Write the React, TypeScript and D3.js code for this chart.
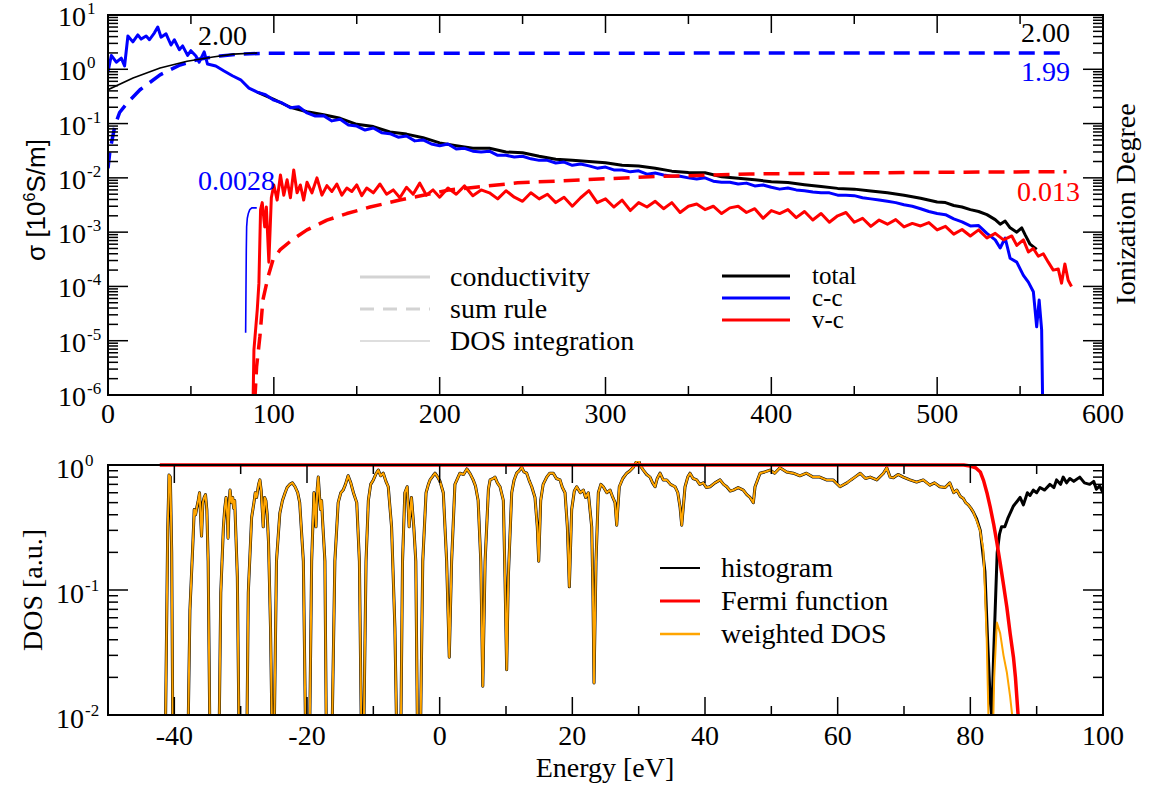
import React from 'react';
import * as d3 from 'd3';

type P = [number, number];

// ---------- top panel: conductivity (10^6 S/m) vs energy (eV) ----------
const ccCond: P[] = [[0,0.89],[2,1.8],[5,1.35],[8,1.6],[10,1.15],[12,4.1],[15,3.2],[18,4.3],[20,3.6],[23,4.1],[25,3.5],[28,4.7],[30,6.0],[32,3.9],[35,4.5],[38,2.8],[40,3.5],[43,2.3],[45,2.7],[48,1.8],[50,2.2],[53,1.76],[55,1.35],[58,2.1],[60,1.25],[65,1.15],[70,0.93],[75,0.76],[80,0.64],[85,0.45],[90,0.38],[95,0.34],[100,0.27],[105,0.24],[110,0.195],[115,0.205],[120,0.157],[125,0.138],[130,0.14],[135,0.112],[140,0.12],[145,0.094],[150,0.09],[155,0.076],[160,0.083],[165,0.068],[170,0.065],[175,0.056],[180,0.059],[185,0.048],[190,0.05],[195,0.042],[200,0.039],[205,0.042],[210,0.034],[215,0.035],[220,0.031],[225,0.03],[230,0.031],[235,0.026],[240,0.026],[245,0.0243],[250,0.025],[255,0.0224],[260,0.021],[265,0.021],[270,0.0188],[275,0.0195],[280,0.017],[285,0.018],[290,0.0166],[295,0.0151],[300,0.0158],[305,0.014],[310,0.014],[315,0.0129],[320,0.0135],[325,0.0117],[330,0.0123],[335,0.0113],[340,0.0107],[345,0.0107],[350,0.01],[355,0.0095],[360,0.01],[365,0.0087],[370,0.0083],[375,0.0083],[380,0.0077],[385,0.008],[390,0.0071],[395,0.0074],[400,0.0067],[405,0.0062],[410,0.0065],[415,0.006],[420,0.0058],[425,0.0055],[430,0.0053],[435,0.0053],[440,0.0048],[445,0.0048],[450,0.0047],[455,0.0043],[460,0.0041],[465,0.0039],[470,0.0037],[475,0.0035],[480,0.0032],[485,0.003],[490,0.0027],[495,0.0024],[500,0.0022],[505,0.0021],[510,0.00175],[515,0.00155],[520,0.0013],[525,0.00132],[530,0.00095],[535,0.00072],[538,0.00051],[541,0.00078],[544,0.00033],[548,0.00028],[552,0.00016],[555,0.00012],[558,0.00008],[560,0.000018],[561.5,0.000056],[563,0.0000158],[564,1e-7]];

const totalCond: P[] = [[90,0.38],[100,0.28],[110,0.2],[120,0.165],[130,0.145],[140,0.125],[150,0.097],[160,0.088],[170,0.07],[180,0.064],[190,0.055],[200,0.044],[210,0.039],[220,0.035],[230,0.035],[240,0.03],[250,0.029],[260,0.025],[270,0.022],[280,0.021],[290,0.02],[300,0.019],[310,0.017],[320,0.0165],[330,0.015],[340,0.0133],[350,0.0125],[360,0.0124],[370,0.0105],[380,0.0098],[390,0.0092],[400,0.0085],[410,0.0082],[420,0.0075],[430,0.0069],[440,0.0064],[450,0.0062],[460,0.0057],[470,0.0053],[480,0.0048],[490,0.0042],[500,0.0036],[505,0.0035],[510,0.0031],[515,0.0029],[520,0.0026],[525,0.0024],[530,0.0021],[535,0.0017],[538,0.0014],[541,0.0016],[544,0.0012],[548,0.001],[551,0.0012],[553,0.0009],[556,0.0006],[560,0.00048]];

const vcCond: P[] = [[87,1e-7],[88,6.8e-6],[90,3.7e-5],[91,1.15e-4],[92,2.6e-3],[93,3.5e-3],[94.5,1.25e-3],[95.5,2.9e-3],[97,2.8e-4],[98.5,4.3e-3],[100,7.4e-3],[102,3.9e-3],[104,0.0113],[106,0.0048],[108,0.0092],[110,0.0043],[112,0.014],[114,0.0053],[116,0.0074],[118,0.0039],[120,0.0083],[123,0.0053],[126,0.01],[129,0.0048],[132,0.0072],[135,0.0056],[138,0.0077],[141,0.0048],[144,0.0065],[147,0.0056],[150,0.0074],[153,0.0047],[156,0.0065],[160,0.0053],[164,0.0077],[168,0.005],[172,0.006],[176,0.0043],[180,0.0067],[184,0.005],[188,0.008],[192,0.0048],[196,0.006],[200,0.0044],[205,0.0065],[210,0.005],[215,0.0071],[220,0.0047],[225,0.006],[230,0.0053],[235,0.0041],[240,0.0058],[245,0.0044],[250,0.0037],[255,0.0053],[260,0.0041],[265,0.005],[270,0.0035],[275,0.0044],[280,0.003],[285,0.0043],[290,0.0058],[295,0.0035],[300,0.0041],[305,0.0029],[310,0.0039],[315,0.0025],[320,0.0035],[325,0.0029],[330,0.0037],[335,0.0027],[340,0.0035],[345,0.0023],[350,0.003],[355,0.0033],[360,0.0026],[365,0.003],[370,0.0022],[375,0.0028],[380,0.003],[385,0.0023],[390,0.0027],[395,0.0018],[400,0.0025],[405,0.0022],[410,0.0026],[415,0.00185],[420,0.0024],[425,0.00167],[430,0.0022],[435,0.00152],[440,0.002],[445,0.0023],[450,0.00152],[455,0.0018],[460,0.00128],[465,0.00167],[470,0.0014],[475,0.0017],[480,0.00125],[485,0.00145],[490,0.0013],[495,0.0015],[500,0.0011],[505,0.00128],[510,0.00092],[515,0.00112],[520,0.00085],[525,0.0011],[530,0.00078],[535,0.00095],[540,0.00072],[545,0.00085],[548,0.00057],[552,0.00072],[555,0.00043],[558,0.0005],[561,0.00036],[564,0.0004],[567,0.00028],[570,0.0002],[573,0.00021],[575,0.000115],[577,0.00026],[579,0.00013],[581,0.0001]];

const ccSumRule: P[] = [[0,0.015],[1.2,0.032],[4.2,0.093],[7,0.16],[11.6,0.24],[19.3,0.42],[31.4,0.79],[43.4,1.2],[55.5,1.55],[67.5,1.76],[79.6,1.9],[95,1.97],[150,1.98],[578,1.99]];
const vcSumRule: P[] = [[88,1e-7],[88.7,1e-6],[89.6,3.3e-6],[91.6,1.2e-5],[93.4,5.6e-5],[96.5,1.5e-4],[99.5,3.1e-4],[103.7,4.7e-4],[111,7.2e-4],[120,1.1e-3],[132,1.66e-3],[144,2.2e-3],[158,2.9e-3],[176,3.9e-3],[206,6.0e-3],[247,8.1e-3],[287,9.2e-3],[327,0.0105],[387,0.0118],[447,0.0123],[508,0.0127],[578,0.013]];
const totalDosInt: P[] = [[0,0.42],[15.1,0.69],[31.4,1.06],[47.7,1.41],[63.3,1.68],[75.4,1.9],[90,2.0]];
const ccDosInt: P[] = [[83.0,1.4e-5],[83.2,8.5e-5],[83.4,4.7e-4],[83.6,1.25e-3],[84.0,1.8e-3],[84.6,2.2e-3],[85.5,2.6e-3],[86.7,2.8e-3],[89.7,2.8e-3]];

// ---------- bottom panel: DOS vs energy (eV) ----------
const weightedDos: P[] = [[-41.4,0.004],[-41.0,0.3],[-40.8,0.83],[-40.6,0.8],[-40.4,0.2],[-40.2,0.004],[-38.0,0.004],[-37.65,0.069],[-37.2,0.24],[-37.0,0.44],[-36.8,0.4],[-36.6,0.46],[-36.4,0.52],[-36.2,0.6],[-36.0,0.35],[-35.9,0.27],[-35.7,0.5],[-35.5,0.55],[-35.3,0.58],[-35.1,0.44],[-34.9,0.17],[-34.6,0.004],[-33.3,0.004],[-33.0,0.095],[-32.6,0.32],[-32.4,0.45],[-32.2,0.55],[-32.0,0.38],[-31.9,0.26],[-31.75,0.5],[-31.6,0.63],[-31.4,0.5],[-31.2,0.55],[-31.05,0.45],[-30.9,0.52],[-30.5,0.127],[-30.2,0.004],[-29.1,0.004],[-28.85,0.095],[-28.35,0.38],[-28.0,0.5],[-27.8,0.6],[-27.6,0.55],[-27.3,0.7],[-27.1,0.76],[-26.9,0.62],[-26.6,0.32],[-26.4,0.55],[-26.2,0.52],[-26.0,0.4],[-25.8,0.24],[-25.5,0.05],[-25.2,0.004],[-25.0,0.004],[-24.6,0.17],[-24.1,0.41],[-23.7,0.52],[-23.3,0.6],[-23.0,0.66],[-22.6,0.7],[-22.2,0.72],[-21.8,0.67],[-21.4,0.6],[-21.1,0.5],[-20.55,0.17],[-20.15,0.004],[-19.65,0.004],[-19.3,0.17],[-18.95,0.6],[-18.8,0.45],[-18.65,0.32],[-18.45,0.65],[-18.3,0.8],[-18.1,0.55],[-17.95,0.44],[-17.8,0.52],[-17.65,0.36],[-17.3,0.17],[-17.05,0.004],[-16.3,0.004],[-15.8,0.17],[-15.3,0.5],[-14.9,0.6],[-14.55,0.63],[-14.2,0.7],[-13.8,0.82],[-13.4,0.72],[-13.0,0.6],[-12.5,0.5],[-12.1,0.17],[-11.75,0.004],[-11.5,0.004],[-11.1,0.17],[-10.75,0.52],[-10.4,0.7],[-10.0,0.76],[-9.6,0.85],[-9.25,0.91],[-8.9,0.82],[-8.5,0.86],[-8.1,0.74],[-7.75,0.67],[-7.25,0.32],[-6.75,0.05],[-6.4,0.004],[-5.9,0.004],[-5.6,0.17],[-5.25,0.6],[-4.9,0.67],[-4.6,0.32],[-4.4,0.45],[-4.25,0.55],[-3.9,0.32],[-3.6,0.17],[-3.3,0.004],[-2.95,0.004],[-2.55,0.17],[-2.05,0.6],[-1.7,0.7],[-1.45,0.76],[-1.0,0.82],[-0.7,0.86],[-0.3,0.8],[0.05,0.74],[0.55,0.6],[1.05,0.17],[1.45,0.029],[1.8,0.17],[2.3,0.7],[2.7,0.78],[3.05,0.86],[3.6,0.84],[4.1,0.93],[4.6,0.85],[5.05,0.76],[5.4,0.68],[5.8,0.52],[6.2,0.17],[6.5,0.017],[6.85,0.17],[7.35,0.64],[7.6,0.76],[8.1,0.78],[8.34,0.8],[8.7,0.72],[9.1,0.67],[9.6,0.52],[9.85,0.127],[10.1,0.023],[10.35,0.127],[10.86,0.6],[11.2,0.75],[11.6,0.86],[12.0,0.9],[12.37,0.96],[12.7,0.88],[13.12,0.86],[13.5,0.75],[13.88,0.67],[14.37,0.55],[14.72,0.32],[14.93,0.17],[15.23,0.52],[15.6,0.7],[16.14,0.8],[16.6,0.86],[17.13,0.86],[17.6,0.78],[18.14,0.76],[18.5,0.66],[18.9,0.6],[19.25,0.32],[19.55,0.106],[19.9,0.44],[20.3,0.62],[20.66,0.67],[21.2,0.6],[21.66,0.63],[22.0,0.55],[22.41,0.6],[22.92,0.32],[23.1,0.1],[23.27,0.018],[23.57,0.17],[23.92,0.6],[24.3,0.7],[24.67,0.67],[25.2,0.6],[25.68,0.63],[26.1,0.55],[26.44,0.5],[26.69,0.33],[27.08,0.67],[27.6,0.78],[28.2,0.86],[28.7,0.9],[29.2,0.96],[29.6,1.05],[29.95,1.1],[30.3,0.98],[30.7,0.91],[31.2,0.84],[31.71,0.8],[32.1,0.72],[32.47,0.67],[32.8,0.78],[33.22,0.86],[33.7,0.76],[34.23,0.76],[34.8,0.7],[35.48,0.67],[35.9,0.6],[36.24,0.46],[36.49,0.33],[36.99,0.67],[37.4,0.8],[37.74,0.86],[38.2,0.78],[38.75,0.76],[39.2,0.7],[39.75,0.72],[40.2,0.66],[40.76,0.67],[41.5,0.72],[42.27,0.76],[42.8,0.7],[43.28,0.67],[43.8,0.62],[44.27,0.63],[45.0,0.66],[45.78,0.63],[46.3,0.58],[46.79,0.55],[47.29,0.5],[47.54,0.67],[48.3,0.86],[49.0,0.88],[49.8,0.91],[50.5,0.86],[51.3,0.95],[52.3,0.88],[53.3,0.86],[54.3,0.82],[55.3,0.86],[56.3,0.8],[57.3,0.8],[58.3,0.76],[59.3,0.76],[60.35,0.67],[61.4,0.72],[62.0,0.76],[62.6,0.8],[63.4,0.86],[64.2,0.78],[64.9,0.8],[65.9,0.76],[66.9,0.86],[67.4,0.95],[67.9,0.8],[68.4,0.79],[69.1,0.84],[69.9,0.8],[70.9,0.76],[71.9,0.73],[72.9,0.76],[73.9,0.69],[74.6,0.72],[75.4,0.67],[76.2,0.66],[76.9,0.72],[77.5,0.6],[77.95,0.63],[78.5,0.56],[78.95,0.54],[79.3,0.5],[79.7,0.48],[80.1,0.45],[80.45,0.42],[80.95,0.36],[81.46,0.3],[81.96,0.21],[82.2,0.1],[82.47,0.04],[82.7,0.0116],[82.9,0.004],[83.3,0.004],[83.6,0.02],[84.0,0.055],[84.5,0.045],[85.0,0.03],[85.5,0.022],[86.0,0.014],[86.4,0.009],[86.8,0.004]];

const histogramTail: P[] = [[80.45,0.42],[80.95,0.37],[81.5,0.3],[82.2,0.14],[82.6,0.04],[83.0,0.013],[83.25,0.0095],[83.5,0.029],[83.85,0.1],[84.05,0.2],[84.4,0.28],[84.7,0.32],[85.2,0.32],[85.7,0.38],[86.5,0.47],[87.5,0.55],[88.0,0.48],[88.6,0.6],[89.0,0.57],[89.5,0.63],[90.0,0.6],[90.5,0.66],[91.2,0.63],[92.0,0.7],[92.6,0.66],[93.0,0.76],[93.6,0.7],[94.0,0.8],[94.5,0.72],[95.0,0.78],[95.6,0.74],[96.5,0.8],[97.2,0.72],[98.0,0.7],[98.6,0.74],[99.0,0.64],[99.5,0.68],[100,0.6]];

const fermiFn: P[] = [[-42.2,1.0],[79.0,1.0],[80.0,0.98],[80.8,0.95],[81.5,0.88],[82.0,0.75],[82.5,0.6],[83.0,0.46],[83.5,0.34],[84.0,0.24],[84.5,0.164],[85.0,0.11],[85.5,0.073],[86.0,0.045],[86.5,0.029],[86.8,0.02],[87.2,0.01],[87.6,0.006]];

const topXTicks = [0, 100, 200, 300, 400, 500, 600];
const topXMinor = [50, 150, 250, 350, 450, 550];
const topYDecades = [1, 0, -1, -2, -3, -4, -5, -6];
const botXTicks = [-40, -20, 0, 20, 40, 60, 80, 100];
const botXMinor = [-30, -10, 10, 30, 50, 70, 90];
const botYDecades = [0, -1, -2];

const legendTopStyle = [
  { label: 'conductivity', dash: '', width: 3 },
  { label: 'sum rule', dash: '14,9', width: 3 },
  { label: 'DOS integration', dash: '', width: 1.5 },
];
const legendTopSeries = [
  { label: 'total', color: '#000000' },
  { label: 'c-c', color: '#0000ff' },
  { label: 'v-c', color: '#ff0000' },
];
const legendBottom = [
  { label: 'histogram', color: '#000000', width: 2 },
  { label: 'Fermi function', color: '#ff0000', width: 3 },
  { label: 'weighted DOS', color: '#ffa500', width: 2.5 },
];

const SERIF = "'Liberation Serif', 'Times New Roman', serif";
const SANS = "'Liberation Sans', Arial, sans-serif";

export default function App() {
  const PL = 108, PR = 1103;
  const T1 = 15, B1 = 395, T2 = 465, B2 = 715;
  const x1 = d3.scaleLinear().domain([0, 600]).range([PL, PR]);
  const y1 = d3.scaleLog().domain([1e-6, 10]).range([B1, T1]);
  const x2 = d3.scaleLinear().domain([-50, 100]).range([PL, PR]);
  const y2 = d3.scaleLog().domain([0.01, 1]).range([B2, T2]);
  const l1 = d3.line<P>().x(d => x1(d[0])).y(d => y1(d[1]));
  const l2 = d3.line<P>().x(d => x2(d[0])).y(d => y2(d[1]));

  const histogram: P[] = [...weightedDos.filter(d => d[0] < 80.4), ...histogramTail];

  const isDecade = (v: number) => Math.abs(Math.log10(v) - Math.round(Math.log10(v))) < 1e-6;
  const y1Ticks = y1.ticks(20).filter(v => v > 1e-6 * 0.999 && v < 10.001);
  const y2Ticks = y2.ticks(20).filter(v => v > 0.00999 && v < 1.0001);

  const lab = { fontFamily: SERIF, fontSize: 28 };

  const yTickMarks = (ticks: number[], y: (v: number) => number) =>
    ticks.map((v, i) => {
      const maj = isDecade(v);
      const L = maj ? 20 : 10;
      const yy = y(v);
      return (
        <g key={'yt' + i}>
          <line x1={PL} x2={PL + L} y1={yy} y2={yy} stroke="#000" strokeWidth={1.5} />
          <line x1={PR} x2={PR - L} y1={yy} y2={yy} stroke="#000" strokeWidth={1.5} />
        </g>
      );
    });

  const xTickMarks = (maj: number[], min: number[], x: (v: number) => number, top: number, bot: number) => (
    <g>
      {maj.map((v, i) => (
        <g key={'xm' + i}>
          <line x1={x(v)} x2={x(v)} y1={bot} y2={bot - 18} stroke="#000" strokeWidth={1.5} />
          <line x1={x(v)} x2={x(v)} y1={top} y2={top + 18} stroke="#000" strokeWidth={1.5} />
        </g>
      ))}
      {min.map((v, i) => (
        <g key={'xn' + i}>
          <line x1={x(v)} x2={x(v)} y1={bot} y2={bot - 9} stroke="#000" strokeWidth={1.5} />
          <line x1={x(v)} x2={x(v)} y1={top} y2={top + 9} stroke="#000" strokeWidth={1.5} />
        </g>
      ))}
    </g>
  );

  return (
    <svg width={1150} height={787} style={{ position: 'absolute', left: 0, top: 0, background: '#fff' }}>
      <defs>
        <clipPath id="clipTop"><rect x={PL} y={T1} width={PR - PL} height={B1 - T1} /></clipPath>
        <clipPath id="clipBot"><rect x={PL} y={T2 - 4} width={PR - PL} height={B2 - T2 + 4} /></clipPath>
      </defs>
      <rect x={0} y={0} width={1150} height={787} fill="#fff" />

      {/* ===== TOP PANEL ===== */}
      <g clipPath="url(#clipTop)" fill="none" strokeLinejoin="round">
        <path d={l1(totalCond) || ''} stroke="#000" strokeWidth={3} />
        <path d={l1(ccCond) || ''} stroke="#0000ff" strokeWidth={3} />
        <path d={l1(vcCond) || ''} stroke="#ff0000" strokeWidth={3} />
        <path d={l1(ccSumRule) || ''} stroke="#0000ff" strokeWidth={3.5} strokeDasharray="16,9" />
        <path d={l1(vcSumRule) || ''} stroke="#ff0000" strokeWidth={3.5} strokeDasharray="16,9" />
        <path d={l1(totalDosInt) || ''} stroke="#000" strokeWidth={1.6} />
        <path d={l1(ccDosInt) || ''} stroke="#0000ff" strokeWidth={1.6} />
      </g>
      {yTickMarks(y1Ticks, y1)}
      {xTickMarks(topXTicks.slice(1, -1), topXMinor, x1, T1, B1)}
      <rect x={PL} y={T1} width={PR - PL} height={B1 - T1} fill="none" stroke="#000" strokeWidth={2} />
      {topXTicks.map(v => (
        <text key={'tx' + v} x={x1(v)} y={423} textAnchor="middle" {...lab}>{v}</text>
      ))}
      {topYDecades.map(k => (
        <g key={'ty' + k}>
          <text x={86} y={y1(Math.pow(10, k)) + 11} textAnchor="end" {...lab}>10</text>
          <text x={87} y={y1(Math.pow(10, k)) - 1} fontFamily={SERIF} fontSize={17}>{k}</text>
        </g>
      ))}
      <text transform="translate(45,200) rotate(-90)" textAnchor="middle" fontFamily={SANS} fontSize={26}>
        σ [10<tspan dy={-10} fontSize={16}>6</tspan><tspan dy={10}>S/m]</tspan>
      </text>
      <text transform="translate(1135,204) rotate(-90)" textAnchor="middle" {...lab}>Ionization Degree</text>

      {/* end-value annotations */}
      <text x={198} y={45} {...lab} fill="#000">2.00</text>
      <text x={1070} y={42} textAnchor="end" {...lab} fill="#000">2.00</text>
      <text x={1070} y={81} textAnchor="end" {...lab} fill="#0000ff">1.99</text>
      <text x={1080} y={201} textAnchor="end" {...lab} fill="#ff0000">0.013</text>
      <text x={198} y={190} {...lab} fill="#0000ff">0.0028</text>

      {/* legends top */}
      {legendTopStyle.map((d, i) => (
        <g key={'lt' + i}>
          <line x1={360} x2={430} y1={277 + i * 32} y2={277 + i * 32} stroke="#d3d3d3" strokeWidth={d.width} strokeDasharray={d.dash || undefined} />
          <text x={450} y={286 + i * 32} {...lab}>{d.label}</text>
        </g>
      ))}
      {legendTopSeries.map((d, i) => (
        <g key={'ls' + i}>
          <line x1={722} x2={790} y1={276 + i * 22} y2={276 + i * 22} stroke={d.color} strokeWidth={3} />
          <text x={812} y={284 + i * 22} fontFamily={SERIF} fontSize={25}>{d.label}</text>
        </g>
      ))}

      {/* ===== BOTTOM PANEL ===== */}
      <g clipPath="url(#clipBot)" fill="none" strokeLinejoin="round">
        <path d={l2(histogram) || ''} stroke="#000" strokeWidth={3} />
        <path d={l2(weightedDos) || ''} stroke="#ffa500" strokeWidth={2} />
        <path d={l2(fermiFn) || ''} stroke="#ff0000" strokeWidth={3.5} />
      </g>
      {yTickMarks(y2Ticks, y2)}
      {xTickMarks(botXTicks.slice(0, -1), botXMinor, x2, T2, B2)}
      <rect x={PL} y={T2} width={PR - PL} height={B2 - T2} fill="none" stroke="#000" strokeWidth={2} />
      {botXTicks.map(v => (
        <text key={'bx' + v} x={x2(v)} y={745} textAnchor="middle" {...lab}>{v}</text>
      ))}
      {botYDecades.map(k => (
        <g key={'by' + k}>
          <text x={84} y={y2(Math.pow(10, k)) + 13} textAnchor="end" {...lab}>10</text>
          <text x={85} y={y2(Math.pow(10, k)) + 1} fontFamily={SERIF} fontSize={17}>{k}</text>
        </g>
      ))}
      <text transform="translate(42,590) rotate(-90)" textAnchor="middle" {...lab}>DOS [a.u.]</text>
      <text x={605} y={777} textAnchor="middle" {...lab}>Energy [eV]</text>

      {legendBottom.map((d, i) => (
        <g key={'lb' + i}>
          <line x1={660} x2={700} y1={568 + i * 33} y2={568 + i * 33} stroke={d.color} strokeWidth={d.width} />
          <text x={721} y={577 + i * 33} {...lab}>{d.label}</text>
        </g>
      ))}
    </svg>
  );
}
